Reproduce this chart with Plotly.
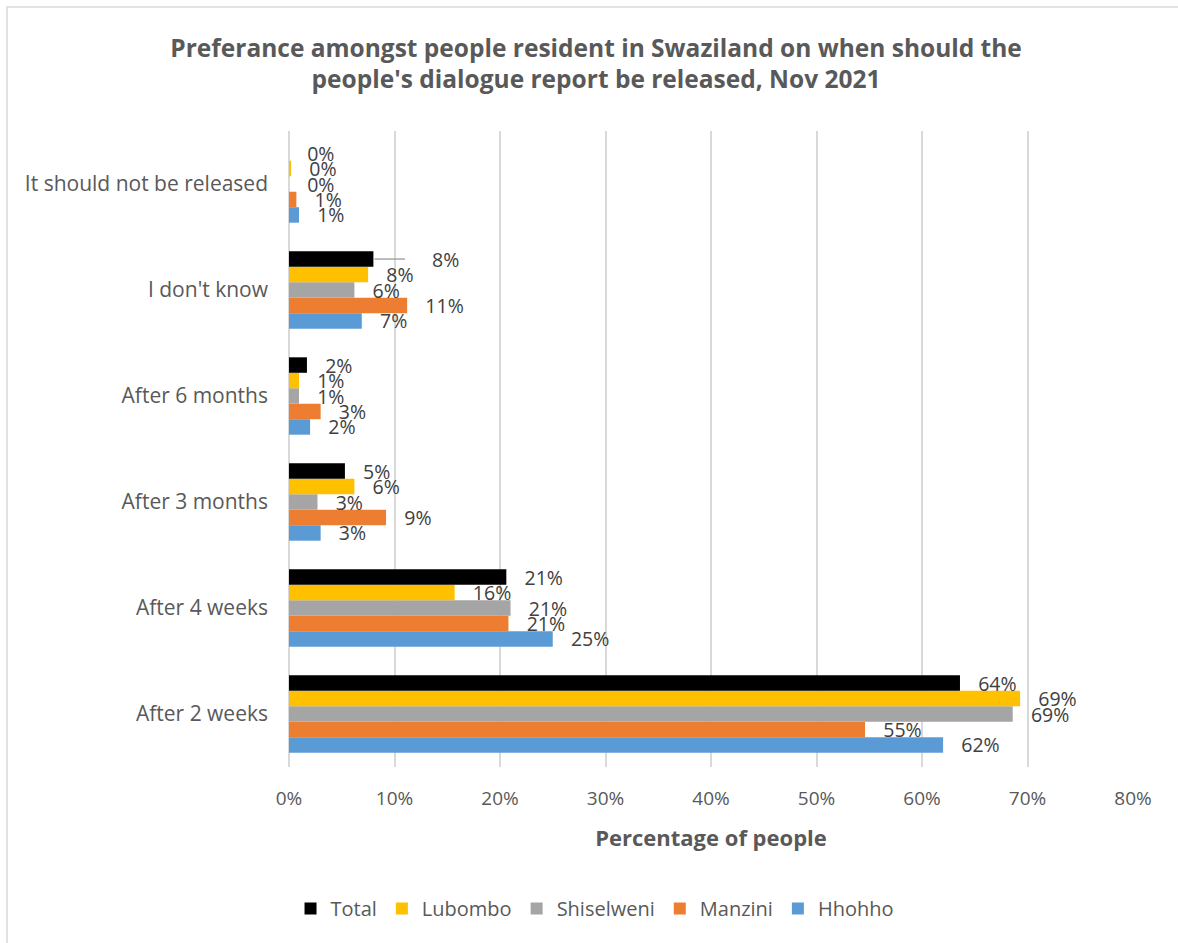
import plotly.graph_objects as go

# Response categories, listed bottom-to-top on the axis
categories = [
    "After 2 weeks",
    "After 4 weeks",
    "After 3 months",
    "After 6 months",
    "I don't know",
    "It should not be released",
]

# Share of respondents (%) per region, same order as categories
hhohho = [62.0, 25.0, 3.0, 2.0, 6.9, 0.95]
manzini = [54.6, 20.8, 9.2, 3.0, 11.2, 0.7]
shiselweni = [68.6, 21.0, 2.7, 0.95, 6.2, 0.0]
lubombo = [69.3, 15.7, 6.2, 0.95, 7.5, 0.2]
total = [63.6, 20.6, 5.3, 1.7, 8.0, 0.0]

series = [
    ("Hhohho", hhohho, "#5b9bd5"),
    ("Manzini", manzini, "#ed7d31"),
    ("Shiselweni", shiselweni, "#a5a5a5"),
    ("Lubombo", lubombo, "#ffc000"),
    ("Total", total, "#000000"),
]

x_ticks = [0, 10, 20, 30, 40, 50, 60, 70, 80]

FONT = "'Open Sans', sans-serif"
GREY = "#595959"
NBSP = "\u00a0"
BARGAP = 0.27

fig = go.Figure()
for name, vals, color in series:
    labels = []
    for cat, v in zip(categories, vals):
        pad = NBSP * 3
        # the Total "I don't know" label sits further out, joined by a leader line
        if name == "Total" and cat == "I don't know":
            pad = NBSP * 11
        labels.append(f"{pad}{v:.0f}%")
    fig.add_trace(go.Bar(
        name=name,
        y=categories,
        x=vals,
        orientation="h",
        marker=dict(color=color, line=dict(width=0)),
        text=labels,
        textposition="outside",
        textfont=dict(size=19.5, color="#404040", family=FONT),
        constraintext="none",
        cliponaxis=False,
    ))

# leader line for the displaced Total label in "I don't know"
n_series = len(series)
slot = (1 - BARGAP) / n_series
idk = categories.index("I don't know")
total_center = idk - (1 - BARGAP) / 2 + slot * (n_series - 0.5)
leader_start = total[idk] + 0.1

fig.update_layout(
    width=1178,
    height=943,
    barmode="group",
    bargap=BARGAP,
    bargroupgap=0.0,
    plot_bgcolor="white",
    paper_bgcolor="white",
    margin=dict(l=289, r=45, t=131, b=176),
    font=dict(family=FONT, color=GREY),
    title=dict(
        text="Preferance amongst people resident in Swaziland on when should the<br>people's dialogue report be released, Nov 2021",
        x=0.506,
        xanchor="center",
        y=0.94,
        yanchor="top",
        font=dict(size=24.5, color=GREY, family=FONT, weight="bold"),
    ),
    xaxis=dict(
        range=[0, 80],
        tickvals=x_ticks,
        ticktext=[f"{t}%" for t in x_ticks],
        tickfont=dict(size=19, color=GREY),
        showgrid=True,
        gridcolor="#d9d9d9",
        gridwidth=1.5,
        zeroline=True,
        zerolinecolor="#d9d9d9",
        zerolinewidth=1.5,
        showline=False,
        ticks="",
        ticklabelstandoff=18,
        automargin=False,
        title=dict(text="<b>Percentage of people</b>", font=dict(size=22, color=GREY), standoff=20),
    ),
    yaxis=dict(
        categoryorder="array",
        categoryarray=categories,
        tickfont=dict(size=21, color=GREY),
        showgrid=False,
        ticks="",
        ticklabelstandoff=20,
        automargin=False,
    ),
    legend=dict(
        orientation="h",
        traceorder="reversed",
        x=0.362,
        xanchor="center",
        y=-0.192,
        yanchor="top",
        font=dict(size=20, color=GREY),
        itemwidth=30,
    ),
    shapes=[
        dict(
            type="rect",
            xref="paper",
            yref="paper",
            x0=-0.3341,
            x1=1.3,
            y0=-0.5,
            y1=1.195,
            line=dict(color="#d9d9d9", width=1.5),
            fillcolor="rgba(0,0,0,0)",
            layer="below",
        ),
        dict(
            type="line",
            xref="x",
            yref="y",
            x0=leader_start,
            x1=leader_start + 2.9,
            y0=total_center,
            y1=total_center,
            line=dict(color="#a6a6a6", width=1.5),
        ),
    ],
)

fig.write_html("out.html")
